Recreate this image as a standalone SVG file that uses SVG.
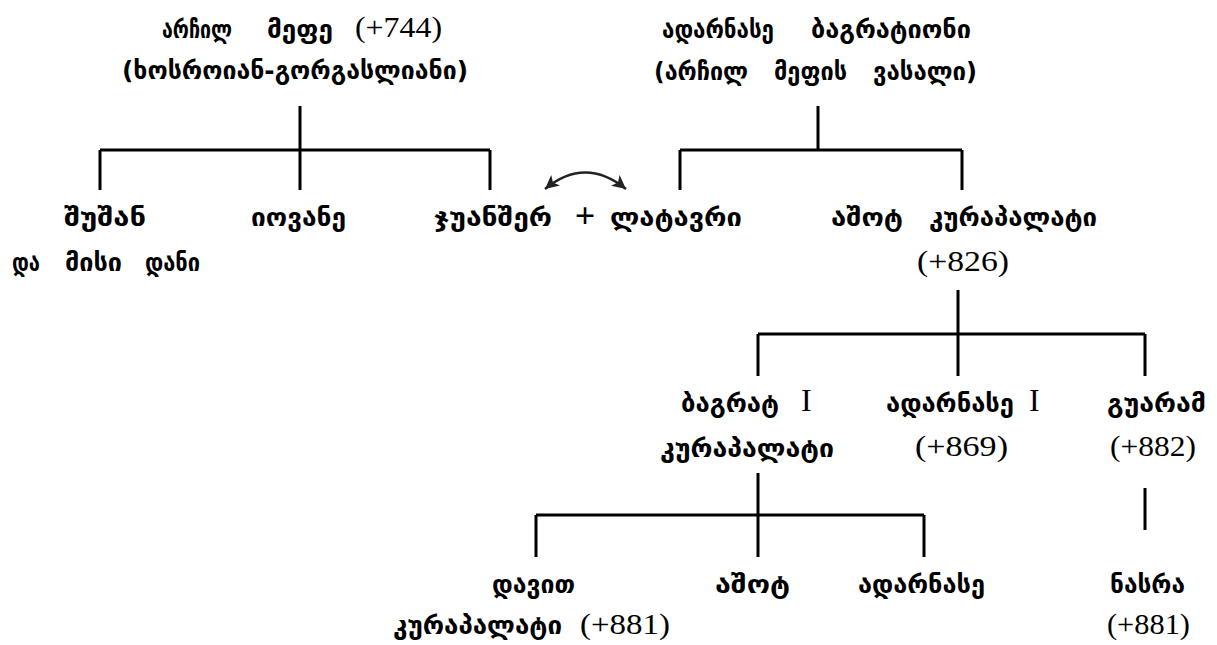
<svg xmlns="http://www.w3.org/2000/svg" width="1217" height="645" viewBox="0 0 1217 645">
<style>
.g{font-family:"DejaVu Sans","Noto Sans",sans-serif;font-size:25px;font-weight:bold;fill:#000}
.n{font-family:"Liberation Serif","Times New Roman",serif;font-size:30px;font-weight:normal;fill:#000}
.r{font-family:"Liberation Serif","Times New Roman",serif;font-size:32px;fill:#000}
.c{stroke:#000;stroke-width:3;fill:none}
.a{stroke:#222;stroke-width:2.5;fill:none}
</style>
<defs>
<marker id="ah" viewBox="0 0 10 10" refX="10" refY="5" markerWidth="5.5" markerHeight="5.5" orient="auto-start-reverse">
<path d="M0 0 L10 5 L0 10 L2.5 5 Z" fill="#222"/>
</marker>
</defs>
<rect width="1217" height="645" fill="#fff"/>
<g id="connectors">
<path class="c" d="M300 106V150M100 150H490M100 150V190M300 150V190M490 150V190"/>
<path class="c" d="M818 106V150M680 150H962M680 150V190M962 150V190"/>
<path class="c" d="M958 290V334M758 334H1145M758 334V376M958 334V376M1145 334V376"/>
<path class="c" d="M758 473V515M536 515H924M536 515V557M758 515V557M924 515V557"/>
<path class="c" d="M1145 488V530"/>
<path class="a" d="M545 189Q585 156 626 189" marker-start="url(#ah)" marker-end="url(#ah)"/>
</g>
<g id="archil">
<text class="g" x="162" y="38" textLength="70" lengthAdjust="spacingAndGlyphs">არჩილ</text>
<text class="g" x="267" y="38" textLength="66" lengthAdjust="spacingAndGlyphs">მეფე</text>
<text class="n" x="355" y="37" textLength="87" lengthAdjust="spacingAndGlyphs">(+744)</text>
<text class="g" x="122" y="79" textLength="346" lengthAdjust="spacingAndGlyphs">(ხოსროიან-გორგასლიანი)</text>
</g>
<g id="adarnase-bagrationi">
<text class="g" x="662" y="38" textLength="112" lengthAdjust="spacingAndGlyphs">ადარნასე</text>
<text class="g" x="811" y="38" textLength="160" lengthAdjust="spacingAndGlyphs">ბაგრატიონი</text>
<text class="g" x="654" y="80" textLength="94" lengthAdjust="spacingAndGlyphs">(არჩილ</text>
<text class="g" x="774" y="80" textLength="73" lengthAdjust="spacingAndGlyphs">მეფის</text>
<text class="g" x="873" y="80" textLength="104" lengthAdjust="spacingAndGlyphs">ვასალი)</text>
</g>
<g id="shushan">
<text class="g" x="64" y="226" textLength="82" lengthAdjust="spacingAndGlyphs">შუშან</text>
<text class="g" x="12" y="271" textLength="28" lengthAdjust="spacingAndGlyphs">და</text>
<text class="g" x="65" y="271" textLength="57" lengthAdjust="spacingAndGlyphs">მისი</text>
<text class="g" x="145" y="271" textLength="55" lengthAdjust="spacingAndGlyphs">დანი</text>
</g>
<g id="ioane">
<text class="g" x="251" y="226" textLength="95" lengthAdjust="spacingAndGlyphs">იოვანე</text>
</g>
<g id="juansher">
<text class="g" x="434" y="226" textLength="118" lengthAdjust="spacingAndGlyphs">ჯუანშერ</text>
<text class="r" x="585" y="228" text-anchor="middle" style="font-size:36px;font-weight:bold">+</text>
<text class="g" x="610" y="226" textLength="132" lengthAdjust="spacingAndGlyphs">ლატავრი</text>
</g>
<g id="ashot-kurapalati">
<text class="g" x="831" y="226" textLength="72" lengthAdjust="spacingAndGlyphs">აშოტ</text>
<text class="g" x="929" y="226" textLength="168" lengthAdjust="spacingAndGlyphs">კურაპალატი</text>
<text class="n" x="917" y="271" textLength="92" lengthAdjust="spacingAndGlyphs">(+826)</text>
</g>
<g id="bagrat">
<text class="g" x="681" y="412" textLength="98" lengthAdjust="spacingAndGlyphs">ბაგრატ</text>
<text class="r" x="801" y="411">I</text>
<text class="g" x="660" y="457" textLength="174" lengthAdjust="spacingAndGlyphs">კურაპალატი</text>
</g>
<g id="adarnase-i">
<text class="g" x="886" y="412" textLength="128" lengthAdjust="spacingAndGlyphs">ადარნასე</text>
<text class="r" x="1029" y="411">I</text>
<text class="n" x="915" y="456" textLength="93" lengthAdjust="spacingAndGlyphs">(+869)</text>
</g>
<g id="guaram">
<text class="g" x="1107" y="412" textLength="99" lengthAdjust="spacingAndGlyphs">გუარამ</text>
<text class="n" x="1110" y="456" textLength="86" lengthAdjust="spacingAndGlyphs">(+882)</text>
</g>
<g id="davit">
<text class="g" x="492" y="593" textLength="83" lengthAdjust="spacingAndGlyphs">დავით</text>
<text class="g" x="393" y="634" textLength="169" lengthAdjust="spacingAndGlyphs">კურაპალატი</text>
<text class="n" x="580" y="634" textLength="90" lengthAdjust="spacingAndGlyphs">(+881)</text>
</g>
<g id="ashot">
<text class="g" x="715" y="593" textLength="75" lengthAdjust="spacingAndGlyphs">აშოტ</text>
</g>
<g id="adarnase">
<text class="g" x="858" y="593" textLength="127" lengthAdjust="spacingAndGlyphs">ადარნასე</text>
</g>
<g id="nasra">
<text class="g" x="1110" y="593" textLength="75" lengthAdjust="spacingAndGlyphs">ნასრა</text>
<text class="n" x="1107" y="634" textLength="83" lengthAdjust="spacingAndGlyphs">(+881)</text>
</g>
</svg>
